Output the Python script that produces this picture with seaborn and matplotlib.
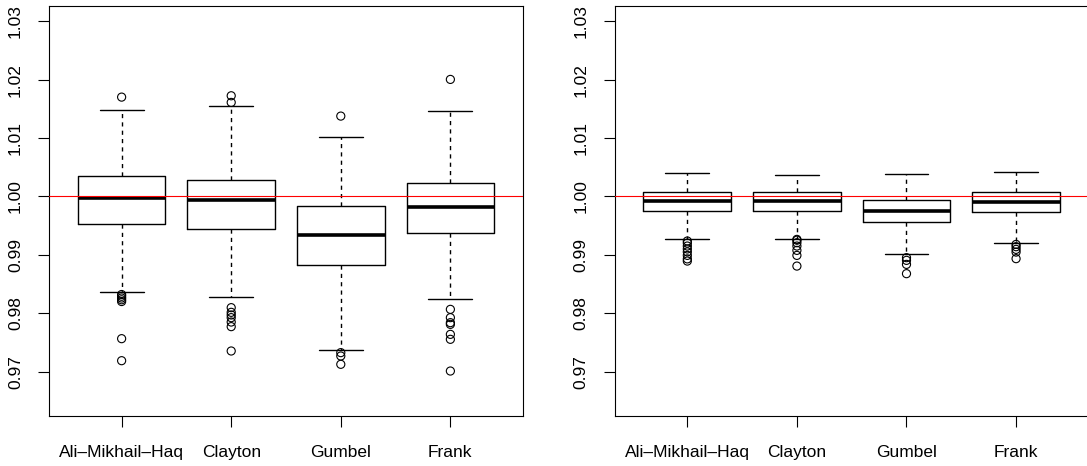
import pandas as pd
import matplotlib
matplotlib.use("Agg")
import matplotlib.pyplot as plt
import seaborn as sns

copulas = ["Ali\u2013Mikhail\u2013Haq", "Clayton", "Gumbel", "Frank"]
y_ticks = [0.97, 0.98, 0.99, 1.00, 1.01, 1.02, 1.03]

# left panel: five-number summaries
left_whislo = [0.98362, 0.98282, 0.97369, 0.98243]
left_q1 = [0.99532, 0.99446, 0.98830, 0.99372]
left_med = [0.99966, 0.99932, 0.99332, 0.99823]
left_q3 = [1.00348, 1.00285, 0.99829, 1.00223]
left_whishi = [1.01478, 1.01541, 1.01010, 1.01461]
left_out_amh = [1.01700, 0.98320, 0.98290, 0.98260, 0.98230, 0.98200, 0.97564, 0.97187]
left_out_clayton = [1.01723, 1.01609, 0.98095, 0.98015, 0.97970, 0.97924, 0.97849, 0.97770, 0.97353]
left_out_gumbel = [1.01375, 0.97325, 0.97267, 0.97125]
left_out_frank = [1.02003, 0.98066, 0.97924, 0.97838, 0.97809, 0.97638, 0.97553, 0.97010]

# right panel
right_whislo = [0.99264, 0.99276, 0.99007, 0.99201]
right_q1 = [0.99743, 0.99755, 0.99560, 0.99726]
right_med = [0.99926, 0.99926, 0.99755, 0.99909]
right_q3 = [1.00080, 1.00080, 0.99932, 1.00068]
right_whishi = [1.00405, 1.00371, 1.00388, 1.00422]
right_out_amh = [0.99236, 0.99200, 0.99150, 0.99100, 0.99050, 0.98990, 0.98930, 0.98893]
right_out_clayton = [0.99264, 0.99250, 0.99207, 0.99150, 0.99076, 0.98990, 0.98807]
right_out_gumbel = [0.98951, 0.98905, 0.98836, 0.98677]
right_out_frank = [0.99178, 0.99139, 0.99093, 0.99047, 0.98934]

sns.set_theme(style="white")
plt.rcParams["font.family"] = ["Liberation Sans", "DejaVu Sans"]


def draw_panel(ax, whislo, q1, med, q3, whishi, outliers, xmax):
    stats = []
    for i in range(len(copulas)):
        stats.append(dict(med=med[i], q1=q1[i], q3=q3[i],
                          whislo=whislo[i], whishi=whishi[i], fliers=[]))
    pos = [1, 2, 3, 4]
    ax.bxp(stats, positions=pos, widths=0.8, capwidths=0.4, showfliers=False,
           manage_ticks=False, patch_artist=False,
           boxprops=dict(color="black", linewidth=1.0),
           whiskerprops=dict(color="black", linewidth=1.0, linestyle=(0, (3, 3))),
           capprops=dict(color="black", linewidth=1.0),
           medianprops=dict(color="black", linewidth=2.6, solid_capstyle="butt"))

    rows = []
    for p, vals in zip(pos, outliers):
        for v in vals:
            rows.append({"pos": p, "value": v})
    df = pd.DataFrame(rows)
    sns.scatterplot(data=df, x="pos", y="value", ax=ax, marker="o", s=34,
                    facecolor="none", edgecolor="black", linewidth=0.8,
                    legend=False, zorder=3)

    ax.axhline(1.0, color="#ff0000", linewidth=0.8, zorder=4)

    ax.set_xlim(0.34, xmax)
    ax.set_ylim(0.9624, 1.0326)
    ax.set_xticks(pos)
    ax.set_xticklabels(copulas)
    ax.set_yticks(y_ticks)
    ax.set_yticklabels([f"{t:.2f}" for t in y_ticks])
    for lab in ax.get_yticklabels():
        lab.set_rotation(90)
        lab.set_va("center")
    ax.set_xlabel("")
    ax.set_ylabel("")
    ax.tick_params(axis="both", direction="out", length=8, width=0.8,
                   color="black", labelsize=12.5, labelcolor="black",
                   bottom=True, left=True)
    ax.tick_params(axis="x", pad=13)
    ax.tick_params(axis="y", pad=11)
    for sp in ax.spines.values():
        sp.set_color("black")
        sp.set_linewidth(0.8)
    ax.grid(False)


fig = plt.figure(figsize=(10.87, 4.66), dpi=100)
W, H = 1087, 466
ax1 = fig.add_axes([49.3 / W, 50 / H, 473.4 / W, 410 / H])
ax2 = fig.add_axes([615 / W, 50 / H, 473.4 / W, 410 / H])

draw_panel(ax1, left_whislo, left_q1, left_med, left_q3, left_whishi,
           [left_out_amh, left_out_clayton, left_out_gumbel, left_out_frank], 4.66)
draw_panel(ax2, right_whislo, right_q1, right_med, right_q3, right_whishi,
           [right_out_amh, right_out_clayton, right_out_gumbel, right_out_frank], 4.66)

fig.savefig("out.png", dpi=100)
